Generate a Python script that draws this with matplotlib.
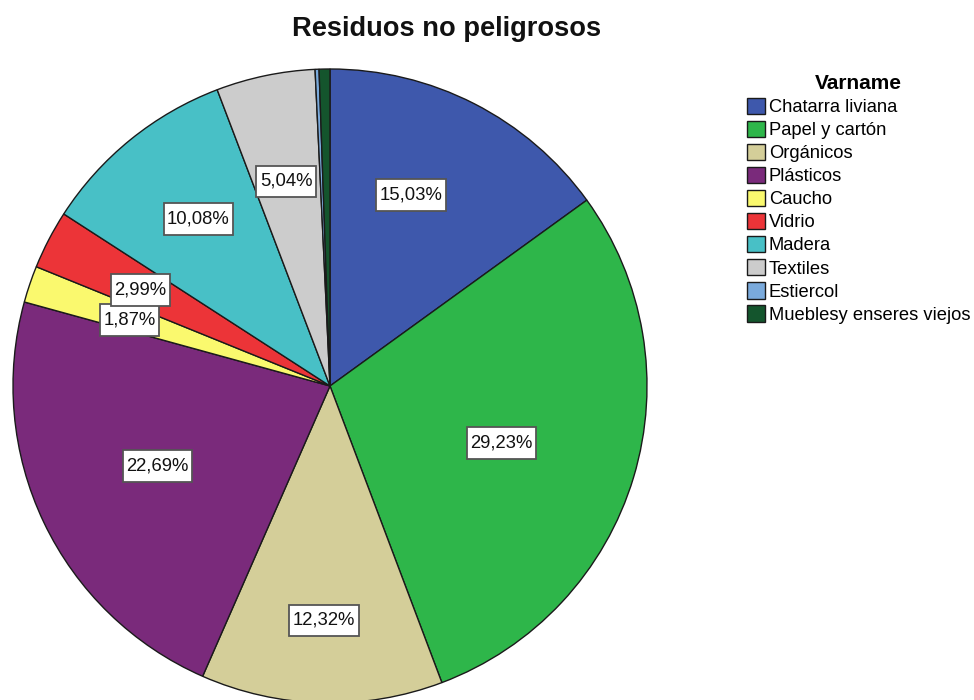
import matplotlib
matplotlib.use("Agg")
import matplotlib.pyplot as plt
from matplotlib.path import Path
import numpy as np

# Waste categories and their share (%) of non-hazardous residues
categories = ["Chatarra liviana", "Papel y cartón", "Orgánicos", "Plásticos",
              "Caucho", "Vidrio", "Madera", "Textiles", "Estiercol",
              "Mueblesy enseres viejos"]
shares = [15.03, 29.23, 12.32, 22.69, 1.87, 2.99, 10.08, 5.04, 0.20, 0.55]
# Labels are only drawn for the visible slices
show_label = [True, True, True, True, True, True, True, True, False, False]
colors = ["#3E58AC", "#2EB64A", "#D4CE99", "#7A2A7B", "#FAF96E",
          "#EC3438", "#48C0C6", "#CCCCCC", "#7AAADC", "#14552D"]

# Label placement: fraction of the radius and angular nudge (degrees)
label_radius = [0.655, 0.57, 0.74, 0.60, 0.665, 0.67, 0.67, 0.66, 0.7, 0.7]
label_nudge = [4.0, -1.7, 0, -0.6, 0.5, 0.6, -0.7, 0.3, 0, 0]

plt.rcParams["font.family"] = ["Liberation Sans", "DejaVu Sans"]


def label_box(x0, y0, width, height, mutation_size):
    """Rectangle with narrow side padding and taller top/bottom padding."""
    px = 0.19 * mutation_size
    py = 0.40 * mutation_size
    x0, y0 = x0 - px, y0 - py
    x1, y1 = x0 + width + 2 * px, y0 + height + 2 * py
    return Path([(x0, y0), (x1, y0), (x1, y1), (x0, y1), (x0, y0)],
                closed=True)


fig = plt.figure(figsize=(9.74, 7.00), dpi=100)
ax = fig.add_axes([0, 0, 1, 1])

cx, cy, r = 330, 314, 317
wedges, _ = ax.pie(shares, colors=colors, startangle=90, counterclock=False,
                   center=(cx, cy), radius=r, normalize=True,
                   wedgeprops=dict(edgecolor="#1a1a1a", linewidth=1.0))
ax.set_xlim(0, 974)
ax.set_ylim(0, 700)
ax.set_aspect("equal")
ax.axis("off")

for w, val, show, fr, nd in zip(wedges, shares, show_label, label_radius, label_nudge):
    if not show:
        continue
    ang = np.deg2rad((w.theta1 + w.theta2) / 2 + nd)
    x = cx + fr * r * np.cos(ang)
    y = cy + fr * r * np.sin(ang)
    txt = f"{val:.2f}%".replace(".", ",")
    ax.text(x, y, txt, ha="center", va="center", fontsize=13.3, color="#111111",
            bbox=dict(boxstyle=label_box, facecolor="white",
                      edgecolor="#555555", linewidth=1.3))

fig.text(447 / 974, 1 - 29 / 700, "Residuos no peligrosos", ha="center",
         va="center", fontsize=19.6, fontweight="bold", color="#111111")

leg = ax.legend(wedges, categories, title="Varname", loc="upper left",
                bbox_to_anchor=(747 / 974, 1 - 74 / 700),
                bbox_transform=fig.transFigure, frameon=False,
                fontsize=13.2, title_fontproperties=dict(weight="bold", size=15),
                handlelength=1.0, handleheight=1.0, handletextpad=0.2,
                labelspacing=0.25, borderaxespad=0, borderpad=0)
leg._legend_box.align = "center"

fig.savefig("out.png", dpi=100)
